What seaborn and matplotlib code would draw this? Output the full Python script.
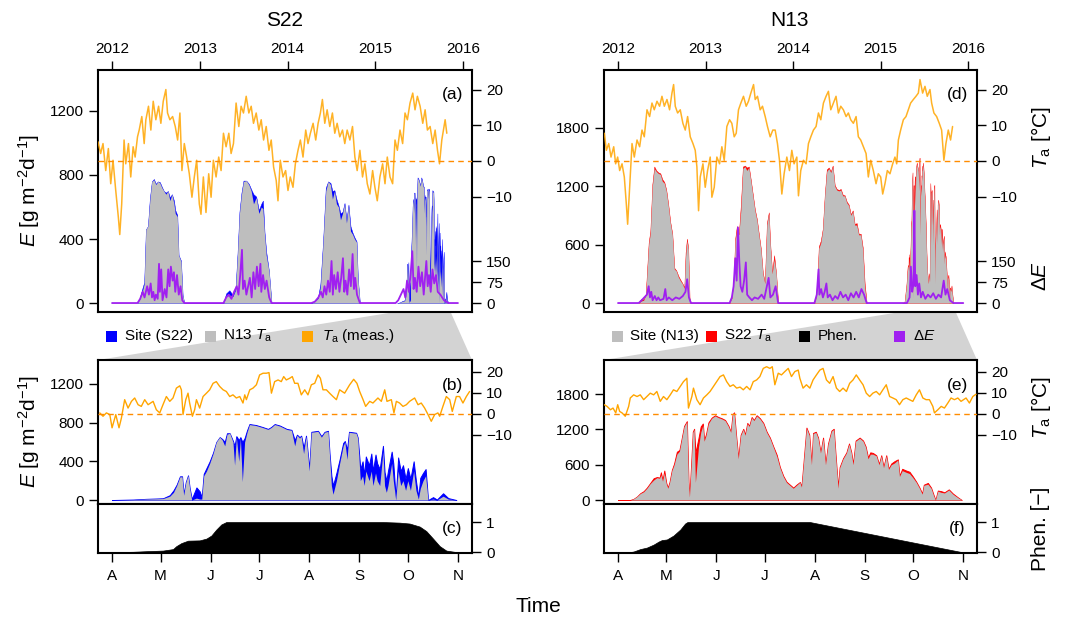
import numpy as np
import matplotlib
matplotlib.use('Agg')
import matplotlib.pyplot as plt
import seaborn as sns
from matplotlib.patches import Polygon, Rectangle
from matplotlib.transforms import blended_transform_factory

# ========== style ==========
sns.set_theme(style='ticks')
plt.rcParams['font.family'] = ['Liberation Sans', 'DejaVu Sans']
plt.rcParams['mathtext.fontset'] = 'custom'
plt.rcParams['mathtext.rm'] = 'Liberation Sans'
plt.rcParams['mathtext.it'] = 'Liberation Sans:italic'
for k in ['text.color', 'axes.labelcolor', 'xtick.color', 'ytick.color', 'axes.edgecolor']:
    plt.rcParams[k] = 'black'

ORANGE, DARKORANGE = '#FFA500', '#FF8C00'
BLUE, RED, GREY, PURPLE, WEDGE = '#0000FF', '#FF0000', '#BEBEBE', '#A020F0', '#D3D3D3'

# ========== data: 2012-2015 overview, S22 ==========
YEAR_T_S22 = [2011.840, 2011.870, 2011.897, 2011.928, 2011.958, 2011.985, 2012.011, 2012.042, 2012.072, 2012.088,
              2012.110, 2012.137, 2012.156, 2012.187, 2012.213, 2012.240, 2012.263, 2012.290, 2012.309, 2012.339,
              2012.366, 2012.385, 2012.415, 2012.442, 2012.469, 2012.499, 2012.530, 2012.556, 2012.583, 2012.613,
              2012.632, 2012.659, 2012.690, 2012.720, 2012.747, 2012.773, 2012.796, 2012.823, 2012.850, 2012.880,
              2012.910, 2012.937, 2012.964, 2012.994, 2013.013, 2013.040, 2013.070, 2013.101, 2013.128, 2013.154,
              2013.185, 2013.215, 2013.242, 2013.269, 2013.299, 2013.330, 2013.356, 2013.383, 2013.413, 2013.444,
              2013.470, 2013.497, 2013.528, 2013.558, 2013.585, 2013.611, 2013.642, 2013.672, 2013.699, 2013.726,
              2013.756, 2013.787, 2013.813, 2013.840, 2013.870, 2013.890, 2013.916, 2013.947, 2013.977, 2014.004,
              2014.030, 2014.061, 2014.088, 2014.118, 2014.145, 2014.175, 2014.206, 2014.232, 2014.259, 2014.290,
              2014.320, 2014.347, 2014.373, 2014.396, 2014.423, 2014.450, 2014.480, 2014.510, 2014.537, 2014.564,
              2014.594, 2014.625, 2014.651, 2014.678, 2014.709, 2014.739, 2014.766, 2014.792, 2014.823, 2014.853,
              2014.880, 2014.907, 2014.937, 2014.968, 2014.994, 2015.021, 2015.051, 2015.082, 2015.109, 2015.135,
              2015.166, 2015.196, 2015.223, 2015.250, 2015.280, 2015.310, 2015.337, 2015.364, 2015.394, 2015.425,
              2015.451, 2015.478, 2015.509, 2015.539, 2015.566, 2015.592, 2015.623, 2015.653, 2015.680, 2015.707,
              2015.730, 2015.756, 2015.775, 2015.794, 2015.813]
T_S22 = [5.4, 2.1, 4.9, -2.7, 3.5, -6.4, 0.2, -8.3, -15.9, -20.7,
         -12.1, 5.9, -0.8, 4.9, -4.5, 4.0, 1.1, 6.8, 8.7, 12.5,
         4.9, 11.6, 15.4, 8.7, 16.8, 11.6, 15.4, 10.6, 16.8, 20.1,
         13.5, 11.6, 12.5, 9.7, 5.9, 13.5, -2.7, 4.9, 1.1, -3.6,
         -10.2, -4.5, 0.2, -12.1, -15.0, -4.5, -14.5, -3.6, -10.2, 0.2,
         -4.5, 1.1, -2.7, 7.8, 4.0, 7.8, 2.1, 4.9, 16.3, 9.7,
         15.4, 13.5, 18.2, 13.5, 15.4, 10.6, 13.5, 8.7, 11.6, 5.9,
         9.7, 3.0, 5.9, -1.7, -5.5, -11.2, 0.2, -4.5, -2.7, -8.3,
         -4.5, -7.4, -0.8, 3.0, 5.9, 1.1, 8.7, 4.9, 7.8, 10.6,
         5.9, 10.6, 13.5, 17.3, 10.6, 14.4, 9.7, 13.5, 7.8, 10.6,
         6.8, 8.7, 4.9, 8.7, 5.9, 9.7, 1.1, -2.7, 3.0, -4.5,
         -0.8, -6.4, -9.3, -2.7, -7.4, -11.2, -4.5, -0.8, -6.4, 1.1,
         -4.5, -6.4, 5.9, 3.0, 8.7, 4.9, 13.5, 11.6, 16.3, 19.1,
         14.4, 18.2, 15.4, 10.6, 14.4, 8.7, 9.7, 4.9, 8.7, 3.0,
         -0.8, 5.9, 8.7, 11.6, 7.8]

YEAR_E_S22 = [2012.290, 2012.309, 2012.339, 2012.366, 2012.385, 2012.408, 2012.430, 2012.453, 2012.476, 2012.499,
              2012.522, 2012.545, 2012.568, 2012.590, 2012.613, 2012.636, 2012.659, 2012.682, 2012.705, 2012.720,
              2012.743, 2012.758, 2012.785, 2012.804, 2012.823,
              2013.269, 2013.299, 2013.337, 2013.375, 2013.406, 2013.429, 2013.451, 2013.474, 2013.497, 2013.528,
              2013.558, 2013.585, 2013.611, 2013.642, 2013.672, 2013.699, 2013.718, 2013.737, 2013.756, 2013.787,
              2013.802, 2013.817,
              2014.270, 2014.309, 2014.347, 2014.373, 2014.404, 2014.434, 2014.461, 2014.488, 2014.510, 2014.533,
              2014.556, 2014.579, 2014.602, 2014.625, 2014.648, 2014.670, 2014.693, 2014.716, 2014.739, 2014.762,
              2014.785, 2014.800, 2014.823]
N13TA_E_S22 = [0, 20, 60, 120, 460, 480, 640, 760, 770, 740,
               760, 750, 720, 700, 680, 700, 640, 680, 620, 560,
               540, 300, 260, 50, 0,
               0, 40, 50, 40, 80, 300, 560, 680, 760, 765,
               740, 700, 620, 660, 560, 600, 590, 430, 300, 200,
               100, 0,
               0, 10, 30, 100, 380, 700, 760, 740, 650, 700,
               620, 600, 520, 560, 620, 500, 610, 450, 430, 400,
               380, 150, 0]
SITE_E_S22 = [0, 20, 80, 130, 460, 480, 650, 760, 775, 745,
              760, 755, 725, 700, 690, 700, 660, 680, 640, 580,
              550, 300, 265, 50, 0,
              0, 60, 80, 50, 90, 310, 570, 690, 765, 765,
              745, 710, 680, 665, 580, 620, 640, 440, 320, 200,
              100, 0,
              0, 10, 40, 120, 390, 720, 760, 750, 700, 705,
              650, 610, 560, 570, 625, 520, 615, 480, 440, 410,
              385, 150, 0]

DE_YEAR_S22 = [2012.000, 2012.290, 2012.320, 2012.350, 2012.370, 2012.400, 2012.420, 2012.440, 2012.455, 2012.470,
               2012.485, 2012.500, 2012.520, 2012.535, 2012.545, 2012.560, 2012.575, 2012.600, 2012.620, 2012.640,
               2012.655, 2012.670, 2012.690, 2012.705, 2012.720, 2012.740, 2012.760, 2012.780, 2012.800, 2012.823,
               2013.269, 2013.300, 2013.330, 2013.360, 2013.390, 2013.420, 2013.440, 2013.460, 2013.480, 2013.492,
               2013.510, 2013.530, 2013.550, 2013.570, 2013.590, 2013.610, 2013.630, 2013.650, 2013.670, 2013.690,
               2013.700, 2013.720, 2013.740, 2013.760, 2013.790, 2013.817,
               2014.270, 2014.310, 2014.350, 2014.380, 2014.400, 2014.420, 2014.440, 2014.460, 2014.480, 2014.500,
               2014.515, 2014.530, 2014.550, 2014.570, 2014.590, 2014.610, 2014.630, 2014.645, 2014.660, 2014.680,
               2014.700, 2014.720, 2014.740, 2014.755, 2014.770, 2014.790, 2014.823,
               2015.230, 2015.260, 2015.290, 2015.320, 2015.340, 2015.360, 2015.380, 2015.400, 2015.420, 2015.435,
               2015.450, 2015.470, 2015.490, 2015.510, 2015.530, 2015.550, 2015.580, 2015.595, 2015.610, 2015.630,
               2015.650, 2015.670, 2015.690, 2015.710, 2015.740, 2015.780, 2015.830, 2015.940]
DE_S22 = [0, 0, 15, 40, 20, 60, 30, 70, 20, 40,
          10, 30, 15, 140, 40, 120, 10, 50, 20, 120,
          60, 130, 80, 110, 40, 100, 30, 60, 10, 0,
          0, 20, 30, 15, 40, 60, 30, 100, 190, 50,
          80, 30, 60, 90, 20, 110, 50, 130, 60, 140,
          40, 100, 50, 80, 20, 0,
          0, 5, 20, 40, 20, 60, 30, 80, 40, 150,
          30, 100, 50, 110, 40, 90, 160, 40, 80, 30,
          120, 60, 175, 50, 90, 30, 0,
          0, 10, 30, 50, 20, 80, 40, 100, 185, 50,
          90, 40, 130, 60, 110, 30, 150, 60, 100, 40,
          120, 70, 100, 40, 30, 10, 0, 0]

# ========== data: 2012-2015 overview, N13 ==========
YEAR_T_N13 = [2011.844, 2011.867, 2011.894, 2011.920, 2011.951, 2011.973, 2011.996, 2012.019, 2012.046, 2012.072,
              2012.095, 2012.110, 2012.133, 2012.160, 2012.186, 2012.217, 2012.247, 2012.274, 2012.300, 2012.331,
              2012.361, 2012.388, 2012.414, 2012.445, 2012.475, 2012.502, 2012.529, 2012.559, 2012.589, 2012.616,
              2012.635, 2012.654, 2012.681, 2012.711, 2012.741, 2012.768, 2012.795, 2012.825, 2012.856, 2012.882,
              2012.901, 2012.920, 2012.939, 2012.970, 2012.996, 2013.023, 2013.053, 2013.072, 2013.099, 2013.129,
              2013.160, 2013.186, 2013.213, 2013.243, 2013.274, 2013.300, 2013.327, 2013.350, 2013.376, 2013.403,
              2013.433, 2013.464, 2013.490, 2013.517, 2013.548, 2013.567, 2013.593, 2013.624, 2013.650, 2013.681,
              2013.707, 2013.738, 2013.768, 2013.795, 2013.821, 2013.844, 2013.871, 2013.897, 2013.928, 2013.958,
              2013.985, 2014.011, 2014.042, 2014.061, 2014.087, 2014.118, 2014.148, 2014.175, 2014.202, 2014.232,
              2014.262, 2014.289, 2014.316, 2014.346, 2014.376, 2014.403, 2014.430, 2014.460, 2014.490, 2014.517,
              2014.544, 2014.574, 2014.605, 2014.631, 2014.658, 2014.688, 2014.719, 2014.745, 2014.772, 2014.802,
              2014.833, 2014.859, 2014.886, 2014.916, 2014.947, 2014.973, 2015.000, 2015.023, 2015.049, 2015.076,
              2015.106, 2015.137, 2015.163, 2015.183, 2015.202, 2015.228, 2015.259, 2015.289, 2015.316, 2015.342,
              2015.373, 2015.403, 2015.430, 2015.449, 2015.479, 2015.506, 2015.532, 2015.563, 2015.582, 2015.608,
              2015.639, 2015.669, 2015.696, 2015.722, 2015.745, 2015.772, 2015.798, 2015.821]
T_N13 = [7.8, 3.0, 4.9, 1.1, 4.0, -0.8, 1.1, -2.7, -0.8, -4.5,
         -12.1, -17.8, -7.4, 4.9, 1.1, 5.9, 4.0, 8.7, 6.8, 14.4,
         12.5, 16.3, 14.4, 16.8, 15.4, 18.2, 15.4, 17.3, 14.4, 19.1,
         21.5, 15.4, 13.5, 14.4, 10.6, 8.7, 12.5, 6.8, 4.9, 3.0,
         -1.7, -14.0, -4.5, -0.8, -7.4, -2.7, 1.1, -10.2, -7.4, 1.1,
         -0.8, 4.0, 0.2, 9.7, 11.6, 10.6, 6.8, 7.8, 14.4, 16.3,
         18.2, 15.4, 16.8, 19.1, 21.5, 17.3, 18.2, 14.4, 15.4, 12.5,
         9.7, 6.8, 8.7, 8.7, 4.9, 0.2, -9.3, -3.6, 1.1, -2.7,
         3.0, -0.8, 1.1, -9.8, -2.7, 0.2, -0.8, 4.9, 6.8, 8.7,
         9.7, 13.5, 11.6, 16.3, 18.2, 19.6, 14.4, 16.3, 18.2, 13.5,
         15.4, 14.4, 12.5, 13.5, 11.6, 10.6, 12.5, 6.8, 5.9, 4.0,
         2.1, -4.5, 0.2, -2.7, -6.4, -3.6, -4.5, -9.3, -6.4, -2.7,
         -3.6, -0.8, 1.1, -0.8, 5.9, 8.7, 11.6, 12.5, 14.4, 16.3,
         17.3, 18.2, 19.1, 22.9, 19.1, 21.0, 18.2, 20.1, 16.3, 13.5,
         12.5, 10.6, 8.7, 0.2, 4.9, 8.7, 5.9, 9.7]

YEAR_E_N13 = [2012.236, 2012.262, 2012.293, 2012.316, 2012.331, 2012.350, 2012.369, 2012.392, 2012.414, 2012.437,
              2012.460, 2012.483, 2012.506, 2012.529, 2012.551, 2012.574, 2012.597, 2012.620, 2012.643, 2012.665,
              2012.688, 2012.711, 2012.734, 2012.757, 2012.772, 2012.787, 2012.802, 2012.817, 2012.833,
              2013.274, 2013.300, 2013.319, 2013.338, 2013.357, 2013.380, 2013.403, 2013.426, 2013.449, 2013.471,
              2013.494, 2013.517, 2013.540, 2013.563, 2013.586, 2013.608, 2013.631, 2013.654, 2013.677, 2013.700,
              2013.722, 2013.738, 2013.760, 2013.783, 2013.806, 2013.829,
              2014.243, 2014.262, 2014.278, 2014.293, 2014.316, 2014.338, 2014.361, 2014.384, 2014.407, 2014.430,
              2014.452, 2014.475, 2014.498, 2014.521, 2014.544, 2014.567, 2014.589, 2014.612, 2014.635, 2014.658,
              2014.681, 2014.703, 2014.726, 2014.749, 2014.772, 2014.795, 2014.817, 2014.840]
SITE_E_N13 = [0, 20, 30, 80, 300, 600, 720, 1200, 1380, 1350,
              1330, 1320, 1250, 1230, 1150, 1000, 820, 700, 350, 330,
              270, 230, 200, 150, 480, 640, 550, 50, 0,
              0, 50, 200, 640, 750, 700, 960, 1380, 1400, 1360,
              1390, 1250, 1100, 950, 850, 700, 550, 300, 200, 800,
              920, 600, 300, 450, 300, 0,
              0, 60, 250, 560, 620, 750, 1100, 1350, 1380, 1340,
              1400, 1200, 1160, 1150, 1160, 1100, 1100, 1030, 1000, 900,
              940, 800, 800, 700, 700, 550, 160, 0]
S22TA_E_N13 = [0, 40, 40, 90, 320, 620, 740, 1220, 1400, 1360,
               1340, 1330, 1270, 1240, 1160, 1010, 830, 710, 360, 335,
               280, 240, 205, 160, 520, 660, 560, 50, 0,
               0, 60, 220, 660, 790, 710, 1010, 1400, 1410, 1390,
               1400, 1260, 1110, 960, 860, 710, 560, 310, 210, 820,
               930, 610, 310, 490, 300, 0,
               0, 70, 270, 580, 640, 760, 1110, 1370, 1390, 1350,
               1410, 1210, 1170, 1160, 1170, 1110, 1105, 1040, 1010, 910,
               950, 810, 820, 710, 710, 570, 200, 0]

DE_YEAR_N13 = [2012.000, 2012.236, 2012.270, 2012.300, 2012.330, 2012.350, 2012.365, 2012.380, 2012.395, 2012.420,
               2012.440, 2012.460, 2012.480, 2012.520, 2012.540, 2012.555, 2012.580, 2012.620, 2012.660, 2012.700,
               2012.740, 2012.770, 2012.790, 2012.810, 2012.833,
               2013.274, 2013.300, 2013.320, 2013.340, 2013.355, 2013.370, 2013.385, 2013.400, 2013.420, 2013.440,
               2013.460, 2013.475, 2013.500, 2013.530, 2013.560, 2013.600, 2013.640, 2013.670, 2013.700, 2013.720,
               2013.740, 2013.770, 2013.800, 2013.829,
               2014.243, 2014.270, 2014.290, 2014.300, 2014.320, 2014.340, 2014.360, 2014.380, 2014.395, 2014.420,
               2014.450, 2014.480, 2014.510, 2014.540, 2014.570, 2014.600, 2014.630, 2014.660, 2014.690, 2014.720,
               2014.750, 2014.780, 2014.810, 2014.840,
               2015.300, 2015.330, 2015.345, 2015.360, 2015.375, 2015.385, 2015.395, 2015.410, 2015.425, 2015.440,
               2015.460, 2015.480, 2015.510, 2015.540, 2015.570, 2015.600, 2015.630, 2015.660, 2015.690, 2015.720,
               2015.740, 2015.760, 2015.790, 2015.830, 2015.943]
DE_N13 = [0, 0, 10, 20, 30, 60, 20, 40, 10, 25,
          10, 20, 10, 15, 50, 10, 20, 10, 20, 15,
          25, 40, 85, 20, 0,
          0, 20, 60, 160, 80, 270, 150, 60, 40, 80,
          145, 30, 20, 10, 20, 15, 30, 15, 60, 90,
          20, 30, 60, 0,
          0, 30, 120, 30, 50, 20, 40, 70, 20, 30,
          10, 25, 15, 40, 20, 30, 10, 35, 20, 40,
          20, 50, 30, 0,
          0, 20, 130, 40, 70, 330, 60, 100, 30, 70,
          20, 40, 15, 30, 20, 35, 15, 30, 20, 80,
          30, 50, 10, 0, 0]

# ========== data: 2015 season, S22 (day of year) ==========
DAY_B = [91, 104, 112, 122.5, 126.7, 129, 131, 133, 134.3, 135.3,
         136.6, 138, 139, 140.3, 143.2, 145.2, 146.5, 147.7, 149.4, 151.4,
         153.5, 155.5, 157.6, 159.2, 160.7, 162.1, 163.8, 165.8, 166.8, 167.9,
         169.4, 170.4, 171.6, 173, 174.5, 176, 180, 184, 187.5, 189.5,
         191.6, 194.7, 199, 202, 204, 205.4, 207, 208, 209.5, 211,
         213, 214.3, 218.4, 220.5, 222.5, 224.6, 225.6, 226.7, 227.7, 229.8,
         231.8, 234, 235, 236.4, 237.6, 242, 243, 244.6, 246, 247,
         248, 250, 251.4, 252.4, 254, 255, 256.6, 258.6, 259.6, 260.7,
         261.7, 264, 265, 266.5, 268, 269.6, 271, 272.6, 274, 275.6,
         277.6, 279, 280.5, 281.7, 283.4, 285, 286.5, 289.6, 292, 295.8,
         299, 304]
N13TA_B = [0, 5, 10, 15, 40, 80, 150, 240, 240, 50,
           180, 255, 120, 0, 20, 10, 10, 250, 300, 380,
           480, 600, 650, 620, 560, 680, 690, 600, 360, 650,
           400, 640, 190, 600, 700, 780, 770, 750, 730, 750,
           780, 765, 730, 720, 560, 670, 640, 660, 480, 660,
           300, 700, 710, 650, 700, 710, 450, 150, 60, 200,
           380, 560, 600, 420, 700, 690, 640, 200, 250, 150,
           300, 200, 300, 150, 280, 200, 150, 500, 150, 80,
           150, 380, 200, 0, 300, 150, 200, 100, 200, 100,
           300, 100, 10, 120, 200, 250, 0, 10, 0, 40,
           10, 0]
SITE_B = [0, 5, 12, 18, 50, 100, 160, 245, 245, 60,
          185, 255, 125, 10, 130, 90, 30, 270, 330, 400,
          490, 600, 650, 630, 600, 690, 690, 610, 560, 660,
          620, 650, 600, 640, 720, 785, 775, 755, 735, 755,
          785, 770, 735, 725, 620, 675, 650, 665, 540, 665,
          320, 705, 715, 660, 705, 715, 470, 250, 150, 280,
          420, 590, 610, 520, 705, 695, 645, 320, 400, 260,
          450, 360, 480, 300, 470, 380, 320, 560, 290, 200,
          300, 500, 380, 20, 440, 300, 360, 220, 330, 220,
          400, 200, 30, 230, 280, 320, 0, 30, 5, 70,
          20, 0]
DAY_TB = [83.4, 85.4, 87.5, 89.6, 91.0, 93.3, 95.3, 96.8, 98.8, 100.9,
          103.0, 105.0, 107.1, 109.1, 111.2, 113.3, 116.4, 118.4, 120.5, 122.5,
          124.6, 126.7, 128.7, 130.8, 132.9, 133.9, 134.9, 136.6, 138.0, 139.0,
          140.7, 142.1, 143.2, 145.2, 147.3, 149.4, 151.4, 153.5, 155.5, 157.6,
          159.7, 161.7, 163.8, 165.8, 167.9, 170.0, 172.0, 173.1, 174.1, 176.2,
          178.2, 180.3, 182.3, 184.4, 186.5, 188.1, 189.6, 191.6, 193.7, 195.7,
          197.2, 198.8, 200.9, 202.5, 204.0, 206.0, 208.1, 210.2, 212.2, 214.3,
          216.4, 218.4, 219.9, 221.5, 223.6, 225.6, 227.7, 229.8, 231.8, 234.9,
          238.0, 240.5, 242.5, 244.2, 246.3, 247.9, 250.4, 252.4, 255.5, 257.6,
          259.7, 261.1, 263.8, 265.4, 266.9, 268.9, 271.0, 273.1, 275.1, 278.2,
          280.3, 282.3, 284.4, 286.5, 288.5, 290.6, 292.6, 293.7, 295.7, 297.8,
          299.9, 301.5, 304.0, 306.0, 308.1, 310.2, 312.2]
T_B = [0.5, -1.1, 0.5, -0.3, -6.6, -0.3, -6.6, -1.9, 6.8, 2.8,
       6.0, 7.6, 4.4, 3.6, 6.8, 4.4, 6.0, 2.0, 0.5, 4.4,
       8.3, 6.0, 7.6, 12.3, 13.4, 11.5, -0.3, 6.8, 9.9, 5.2,
       -1.1, 2.0, 6.8, 2.8, 8.3, 9.9, 11.5, 14.6, 15.4, 13.1,
       11.5, 10.7, 8.3, 9.1, 7.6, 8.3, 5.2, 9.1, 6.8, 11.5,
       12.3, 13.9, 18.6, 19.4, 19.4, 19.7, 9.9, 15.4, 16.2, 15.4,
       17.8, 16.2, 17.0, 17.8, 14.6, 14.6, 9.1, 11.5, 9.1, 13.9,
       14.6, 18.6, 17.0, 11.5, 11.5, 9.9, 8.3, 6.8, 11.5, 9.9,
       13.9, 16.5, 14.6, 10.7, 6.8, 3.6, 6.0, 5.2, 7.6, 6.0,
       11.5, 6.0, 6.8, 0.5, 6.0, 5.2, 3.6, 4.4, 6.0, 7.6,
       4.4, 5.2, 2.8, -0.3, -3.5, -0.3, 0.5, -1.1, 3.6, 8.3,
       6.8, 1.2, 8.3, 8.3, 5.2, 8.3, 10.7]
DAY_C = [91, 104, 112.2, 122.5, 128.7, 130.8, 133.9, 138, 145.2, 149.4, 152.4, 155.5,
         158.6, 161.7, 258.6, 268.9, 275.1, 281.3, 285.4, 289.6, 293.7, 297.8, 304]
PHEN_C = [0, 0.01, 0.03, 0.05, 0.1, 0.2, 0.3, 0.38, 0.39, 0.45, 0.55, 0.75,
          0.92, 1.0, 1.0, 0.98, 0.95, 0.85, 0.7, 0.45, 0.2, 0.05, 0]

# ========== data: 2015 season, N13 (day of year) ==========
DAY_E = [91, 98.6, 100.7, 102.8, 104.8, 106.9, 108.9, 111.0, 113.1, 115.1,
         116.8, 117.6, 118.6, 119.7, 120.9, 121.9, 123.0, 124.4, 125.8, 127.5,
         129.1, 130.6, 132.0, 133.7, 134.7, 135.3, 136.4, 137.4, 138.2, 139.0,
         140.9, 142.3, 143.6, 144.4, 145.6, 147.1, 149.1, 151.2, 153.3, 155.3,
         157.4, 159.5, 160.9, 162.1, 163.0, 164.2, 165.6, 167.1, 168.7, 169.8,
         171.2, 172.4, 173.9, 175.3, 177.0, 179.0, 181.1, 183.2, 185.2, 187.3,
         189.4, 191.4, 193.5, 195.5, 197.6, 199.7, 201.7, 203.8, 204.8, 206.3,
         207.9, 209.6, 211.0, 212.0, 213.7, 215.1, 216.6, 218.2, 219.7, 221.3,
         223.4, 224.8, 226.1, 227.5, 228.5, 230.6, 232.7, 234.3, 235.7, 236.8,
         238.4, 240.9, 243.0, 244.6, 246.1, 247.5, 249.1, 251.2, 252.9, 254.3,
         255.7, 257.4, 258.8, 260.5, 262.5, 264.6, 265.6, 267.3, 269.8, 271.8,
         273.9, 276.0, 278.0, 279.7, 280.7, 283.2, 285.2, 286.7, 287.9, 289.4,
         291.5, 293.5, 296.2, 298.7, 301.8, 304.2]
SITE_E = [0, 0, 20, 60, 110, 140, 200, 280, 340, 380,
          370, 430, 320, 460, 280, 200, 300, 500, 600, 780,
          830, 1050, 1250, 1330, 300, 50, 600, 1150, 1200, 300,
          900, 1150, 1270, 1000, 1100, 1300, 1390, 1430, 1400, 1380,
          1350, 1250, 1150, 1450, 1480, 1100, 700, 1100, 1200, 1100,
          1300, 1250, 1400, 1350, 1430, 1380, 1300, 1150, 1050, 900,
          750, 550, 400, 300, 250, 200, 250, 300, 220, 700,
          1220, 1100, 600, 1130, 1150, 1050, 800, 1050, 600, 950,
          1170, 1200, 700, 200, 550, 700, 800, 950, 800, 600,
          1000, 1050, 1000, 900, 700, 780, 780, 750, 600, 750,
          550, 750, 520, 600, 630, 680, 400, 500, 470, 450,
          380, 300, 200, 100, 250, 270, 200, 80, 0, 150,
          130, 120, 170, 100, 40, 0]
S22TA_E = [0, 0, 20, 60, 115, 150, 210, 290, 370, 390,
           380, 470, 330, 500, 290, 210, 310, 510, 620, 820,
           850, 1060, 1260, 1340, 310, 60, 620, 1160, 1210, 800,
           1050, 1250, 1300, 1020, 1120, 1320, 1400, 1440, 1410, 1390,
           1360, 1260, 1160, 1460, 1490, 1110, 710, 1110, 1210, 1110,
           1310, 1260, 1410, 1360, 1440, 1390, 1310, 1160, 1060, 910,
           770, 560, 410, 310, 260, 210, 260, 305, 225, 710,
           1230, 1110, 610, 1140, 1160, 1060, 810, 1060, 610, 960,
           1180, 1210, 710, 210, 560, 710, 810, 960, 810, 610,
           1010, 1060, 1010, 910, 720, 810, 800, 760, 610, 760,
           560, 760, 530, 620, 660, 690, 410, 530, 500, 480,
           400, 310, 210, 110, 260, 290, 210, 90, 0, 160,
           150, 130, 180, 110, 45, 0]
DAY_TE = [82.5, 84.2, 86.3, 87.9, 89.6, 90.8, 92.0, 93.5, 95.5, 97.6,
          98.6, 100.7, 102.8, 104.8, 106.9, 108.9, 111.0, 113.1, 115.1, 117.2,
          119.2, 121.3, 123.4, 125.4, 127.5, 129.6, 131.6, 133.7, 134.7, 136.8,
          137.8, 139.9, 141.9, 144.0, 146.1, 148.1, 150.2, 152.2, 154.3, 156.4,
          158.4, 160.5, 162.5, 164.6, 166.7, 168.7, 170.8, 172.9, 174.9, 177.0,
          179.0, 181.1, 183.2, 185.2, 186.7, 188.3, 190.4, 192.4, 194.5, 196.6,
          198.6, 200.7, 202.8, 203.8, 205.8, 207.9, 210.0, 212.0, 214.1, 216.2,
          218.2, 220.3, 222.3, 224.4, 226.5, 228.5, 230.6, 232.7, 234.7, 236.8,
          238.8, 240.9, 243.0, 245.0, 247.1, 249.1, 251.2, 253.3, 255.3, 257.4,
          259.5, 261.5, 263.6, 265.6, 267.7, 269.8, 271.8, 273.9, 276.0, 278.0,
          280.1, 282.1, 284.2, 286.3, 287.3, 289.4, 291.5, 293.5, 295.6, 297.6,
          299.7, 301.8, 303.8, 306.9, 309.0, 311.1, 313.1]
T_E = [4.4, 3.6, 2.0, 2.8, 0.5, 4.4, 1.2, 0.5, -1.1, 3.6,
       7.6, 9.1, 8.3, 9.1, 6.8, 8.3, 9.9, 9.1, 10.7, 6.0,
       8.3, 6.8, 9.1, 11.5, 10.7, 13.1, 15.4, 17.0, 2.8, 8.3,
       12.3, 6.8, 4.4, 7.6, 9.1, 10.7, 13.1, 15.4, 17.8, 18.6,
       15.4, 13.1, 13.9, 12.3, 12.8, 11.5, 13.1, 11.5, 15.4, 16.2,
       17.8, 21.7, 22.5, 21.7, 22.5, 13.9, 19.4, 18.6, 20.2, 21.7,
       17.8, 20.2, 20.9, 17.0, 12.3, 13.9, 12.3, 16.2, 18.6, 20.9,
       21.7, 16.2, 14.6, 17.8, 12.3, 10.7, 12.3, 10.7, 14.6, 16.2,
       18.6, 16.2, 13.9, 9.9, 8.3, 9.9, 10.7, 9.1, 11.5, 13.9,
       8.3, 7.6, 6.8, 4.4, 6.8, 7.6, 6.8, 6.0, 9.1, 11.5,
       7.6, 6.8, 6.8, 3.6, 0.5, 2.0, 3.6, 2.8, 5.2, 7.6,
       6.8, 7.6, 6.0, 7.6, 5.2, 8.3, 9.4]
DAY_F = [91, 98.6, 100.7, 104.8, 108.9, 113.1, 116.2, 118.2, 121.3, 125.4, 129.6, 132.6, 134.1, 210, 304.2]
PHEN_F = [0, 0, 0.02, 0.1, 0.15, 0.25, 0.35, 0.4, 0.42, 0.55, 0.75, 0.95, 1.0, 1.0, 0]

YEAR_TICKS = [2012, 2013, 2014, 2015, 2016]
MONTH_DAYS = [91, 121, 152, 182, 213, 244, 274, 305]
MONTH_LABELS = ['A', 'M', 'J', 'J', 'A', 'S', 'O', 'N']
ZOOM_YEAR = 2015

# ========== layout (pixels of the 1070x618 canvas) ==========
W, H = 1070, 618
fig = plt.figure(figsize=(W / 100, H / 100), dpi=100)


def rect(x0, y0, x1, y1):
    return [x0 / W, 1 - y1 / H, (x1 - x0) / W, (y1 - y0) / H]


def frame(ax):
    for s in ax.spines.values():
        s.set_linewidth(1.5)
        s.set_color('black')


def hide(ax):
    for s in ax.spines.values():
        s.set_visible(False)


TICK = dict(direction='out', length=6.5, width=1, labelsize=11, pad=3.5, colors='black')
YR_LIM = (2011.84, 2016.10)
DAY_LIM = (82.3, 313.7)


def top_panel(x0, x1, e_lim, e_ticks, yrs, low, high, high_col, d15, low15, high15,
              t_yr, t_val, de_yr, de_val, tag):
    ax = fig.add_axes(rect(x0, 70, x1, 312))
    yr15 = ZOOM_YEAR + (np.asarray(d15) - 1) / 365
    for xx, hi, lo in [(yrs, high, low), (yr15, high15, low15)]:
        ax.fill_between(xx, hi, color=high_col, lw=0.3)
        ax.fill_between(xx, lo, color=GREY, lw=0)
    ax.set_ylim(e_lim)
    ax.set_yticks(e_ticks)
    ax.xaxis.tick_top()
    ax.set_xticks(YEAR_TICKS)
    ax.set_xticklabels([str(y) for y in YEAR_TICKS])
    ax.tick_params(axis='x', top=True, bottom=False, labeltop=True, labelbottom=False, **TICK)
    ax.tick_params(axis='y', left=True, right=False, **TICK)
    frame(ax)

    axd = ax.twinx()
    sns.lineplot(x=de_yr, y=de_val, ax=axd, color=PURPLE, lw=1.3, estimator=None, sort=False)
    axd.set_ylim(-32, 832)
    axd.set_yticks([0, 75, 150])
    axd.tick_params(axis='y', **TICK)
    hide(axd)

    axt = ax.twinx()
    sns.lineplot(x=t_yr, y=t_val, ax=axt, color=ORANGE, lw=1.1, alpha=0.85, estimator=None, sort=False)
    axt.axhline(0, color=DARKORANGE, lw=1, dashes=(4, 3))
    axt.set_ylim(-42.5, 25.6)
    axt.set_yticks([-10, 0, 10, 20])
    axt.tick_params(axis='y', **TICK)
    hide(axt)
    for a in (ax, axd, axt):
        a.set_xlabel('')
        a.set_ylabel('')
    ax.set_xlim(YR_LIM)
    axt.text(0.947, 0.9, tag, transform=axt.transAxes, ha='center', va='center', fontsize=12.5)
    return ax


def mid_panel(x0, x1, e_lim, e_ticks, days, low, high, high_col, t_day, t_val, tag):
    ax = fig.add_axes(rect(x0, 360, x1, 504))
    ax.fill_between(days, high, color=high_col, lw=0.7)
    ax.fill_between(days, low, color=GREY, lw=0)
    ax.set_ylim(e_lim)
    ax.set_yticks(e_ticks)
    ax.tick_params(axis='x', bottom=False, labelbottom=False)
    ax.tick_params(axis='y', left=True, right=False, **TICK)
    frame(ax)
    axt = ax.twinx()
    sns.lineplot(x=t_day, y=t_val, ax=axt, color=ORANGE, lw=1, estimator=None, sort=False)
    axt.axhline(0, color=DARKORANGE, lw=1, dashes=(4, 3))
    axt.set_ylim(-42.9, 25.7)
    axt.set_yticks([-10, 0, 10, 20])
    axt.tick_params(axis='y', **TICK)
    hide(axt)
    for a in (ax, axt):
        a.set_xlabel('')
        a.set_ylabel('')
    ax.set_xlim(DAY_LIM)
    axt.text(0.947, 0.826, tag, transform=axt.transAxes, ha='center', va='center', fontsize=12.5)
    return ax


def phen_panel(x0, x1, days, phen, tag):
    ax = fig.add_axes(rect(x0, 504, x1, 553))
    ax.fill_between(days, phen, color='black', lw=0.5)
    ax.set_xlim(DAY_LIM)
    ax.set_ylim(-0.03, 1.6)
    ax.yaxis.tick_right()
    ax.set_yticks([0, 1])
    ax.set_xticks(MONTH_DAYS)
    ax.set_xticklabels(MONTH_LABELS)
    ax.tick_params(axis='both', **TICK)
    ax.tick_params(axis='x', pad=5)
    frame(ax)
    ax.text(0.947, 0.49, tag, transform=ax.transAxes, ha='center', va='center', fontsize=12.5)
    return ax


def wedge(ax_top, ax_zoom):
    d0, d1 = ax_zoom.get_xlim()
    tr = blended_transform_factory(ax_top.transData, ax_top.transAxes)
    p = [tr.transform((ZOOM_YEAR + (d0 - 1) / 365, 0)), tr.transform((ZOOM_YEAR + (d1 - 1) / 365, 0)),
         ax_zoom.transAxes.transform((1, 1)), ax_zoom.transAxes.transform((0, 1))]
    pts = fig.transFigure.inverted().transform(np.array(p))
    fig.patches.append(Polygon(pts, closed=True, transform=fig.transFigure,
                               facecolor=WEDGE, edgecolor='none', zorder=-1))


def legend_row(items, y):
    for xc, xt, col, label in items:
        fig.patches.append(Rectangle(((xc - 5.5) / W, 1 - (y + 5.5) / H), 11 / W, 11 / H,
                                     transform=fig.transFigure, facecolor=col, edgecolor='none', zorder=3))
        fig.text(xt / W, 1 - y / H, label, ha='left', va='center', fontsize=11)


# ---- S22 column ----
axA = top_panel(98, 472, (-56, 1456), [0, 400, 800, 1200], YEAR_E_S22, N13TA_E_S22, SITE_E_S22, BLUE,
                DAY_B, N13TA_B, SITE_B, YEAR_T_S22, T_S22, DE_YEAR_S22, DE_S22, '(a)')
axB = mid_panel(98, 472, (-41, 1447), [0, 400, 800, 1200], DAY_B, N13TA_B, SITE_B, BLUE, DAY_TB, T_B, '(b)')
axC = phen_panel(98, 472, DAY_C, PHEN_C, '(c)')

# ---- N13 column ----
axD = top_panel(604, 977, (-92, 2390), [0, 600, 1200, 1800], YEAR_E_N13, SITE_E_N13, S22TA_E_N13, RED,
                DAY_E, SITE_E, S22TA_E, YEAR_T_N13, T_N13, DE_YEAR_N13, DE_N13, '(d)')
axE = mid_panel(604, 977, (-68, 2380), [0, 600, 1200, 1800], DAY_E, SITE_E, S22TA_E, RED, DAY_TE, T_E, '(e)')
axF = phen_panel(604, 977, DAY_F, PHEN_F, '(f)')

wedge(axA, axB)
wedge(axD, axE)

legend_row([(111.5, 125, BLUE, 'Site (S22)'),
            (210, 223, GREY, r'N13 $T_\mathrm{a}$'),
            (307.5, 322, ORANGE, r'$T_\mathrm{a}$ (meas.)')], 336)
legend_row([(617, 630, GREY, 'Site (N13)'),
            (711, 724, RED, r'S22 $T_\mathrm{a}$'),
            (804.5, 818, 'black', 'Phen.'),
            (899.5, 913, PURPLE, r'$\Delta E$')], 336)

# ---- titles and axis labels ----
fig.text(285 / W, 1 - 20 / H, 'S22', ha='center', va='center', fontsize=15)
fig.text(790 / W, 1 - 20 / H, 'N13', ha='center', va='center', fontsize=15)
fig.text(538 / W, 1 - 607 / H, 'Time', ha='center', va='center', fontsize=15)
ELAB = r'$E$ [g m$^{-2}$d$^{-1}$]'
fig.text(29 / W, 1 - 191 / H, ELAB, rotation=90, ha='center', va='center', fontsize=15)
fig.text(29 / W, 1 - 432 / H, ELAB, rotation=90, ha='center', va='center', fontsize=15)
fig.text(1041 / W, 1 - 138 / H, r'$T_\mathrm{a}$ [°C]', rotation=90, ha='center', va='center', fontsize=15)
fig.text(1041 / W, 1 - 276 / H, r'$\Delta E$', rotation=90, ha='center', va='center', fontsize=15)
fig.text(1041 / W, 1 - 408 / H, r'$T_\mathrm{a}$ [°C]', rotation=90, ha='center', va='center', fontsize=15)
fig.text(1041 / W, 1 - 529 / H, 'Phen. [\u2212]', rotation=90, ha='center', va='center', fontsize=15)

fig.savefig('out.png', dpi=100)
